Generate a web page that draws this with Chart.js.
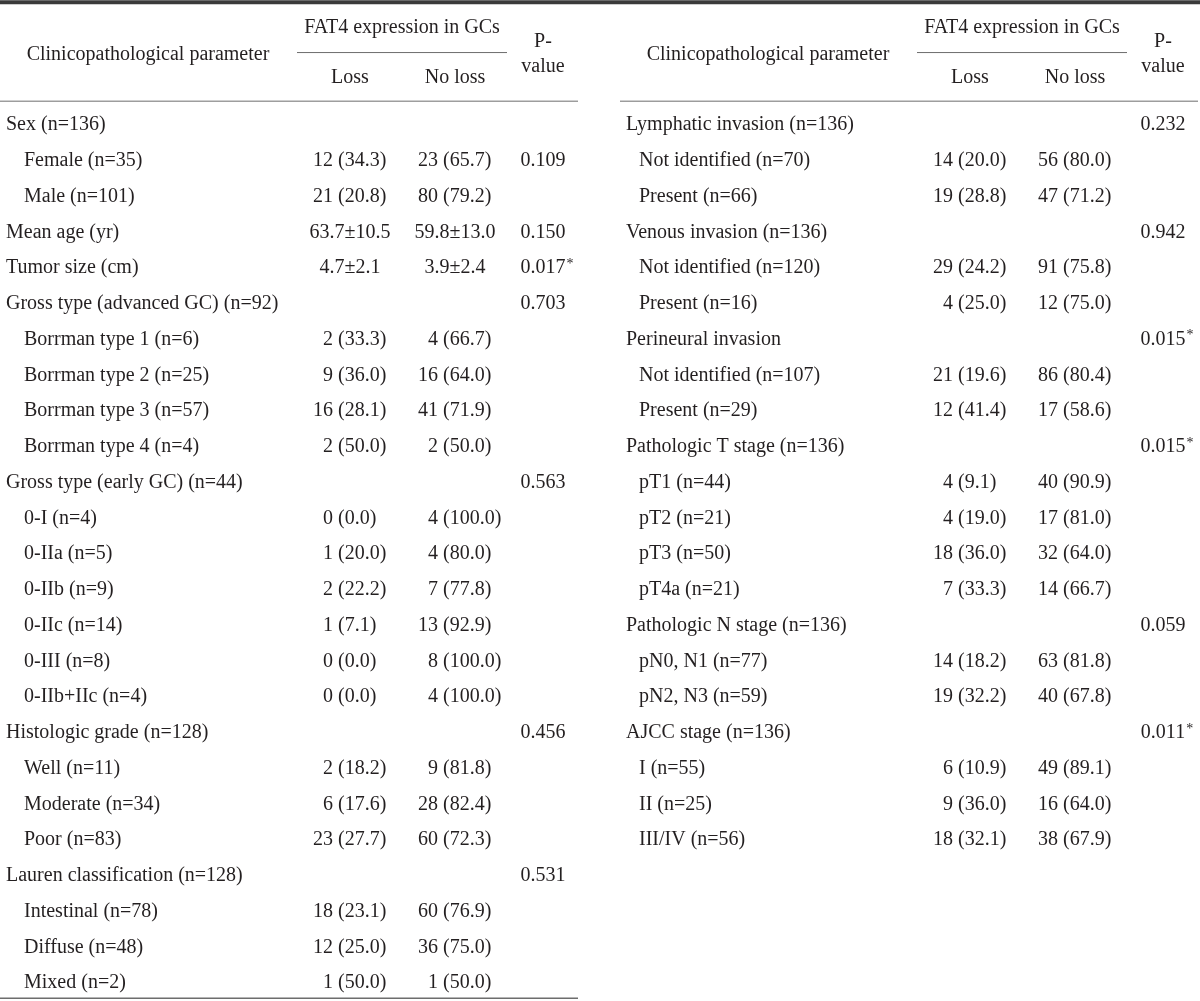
<!DOCTYPE html>
<html>
<head>
<meta charset="utf-8">
<title>FAT4 expression in GCs</title>
<script src="https://cdn.jsdelivr.net/npm/chart.js@4.4.1/dist/chart.umd.min.js"></script>
<style>
    html, body { margin: 0; padding: 0; background: #fff; }
    #wrap { width: 1200px; height: 1001px; position: relative; }
</style>
</head>
<body>
<div id="wrap"><canvas id="table-chart"></canvas></div>
<script>
// Table data - left half
const leftLabels = [
    'Sex (n=136)', 'Female (n=35)', 'Male (n=101)', 'Mean age (yr)', 'Tumor size (cm)',
    'Gross type (advanced GC) (n=92)', 'Borrman type 1 (n=6)', 'Borrman type 2 (n=25)',
    'Borrman type 3 (n=57)', 'Borrman type 4 (n=4)', 'Gross type (early GC) (n=44)',
    '0-I (n=4)', '0-IIa (n=5)', '0-IIb (n=9)', '0-IIc (n=14)', '0-III (n=8)', '0-IIb+IIc (n=4)',
    'Histologic grade (n=128)', 'Well (n=11)', 'Moderate (n=34)', 'Poor (n=83)',
    'Lauren classification (n=128)', 'Intestinal (n=78)', 'Diffuse (n=48)', 'Mixed (n=2)'
];
const leftLevels = [0, 1, 1, 0, 0, 0, 1, 1, 1, 1, 0, 1, 1, 1, 1, 1, 1, 0, 1, 1, 1, 0, 1, 1, 1];
const leftLoss = [
    '', '12 (34.3)', '21 (20.8)', '63.7±10.5', '4.7±2.1', '', '2 (33.3)', '9 (36.0)', '16 (28.1)',
    '2 (50.0)', '', '0 (0.0)', '1 (20.0)', '2 (22.2)', '1 (7.1)', '0 (0.0)', '0 (0.0)', '',
    '2 (18.2)', '6 (17.6)', '23 (27.7)', '', '18 (23.1)', '12 (25.0)', '1 (50.0)'
];
const leftNoLoss = [
    '', '23 (65.7)', '80 (79.2)', '59.8±13.0', '3.9±2.4', '', '4 (66.7)', '16 (64.0)', '41 (71.9)',
    '2 (50.0)', '', '4 (100.0)', '4 (80.0)', '7 (77.8)', '13 (92.9)', '8 (100.0)', '4 (100.0)', '',
    '9 (81.8)', '28 (82.4)', '60 (72.3)', '', '60 (76.9)', '36 (75.0)', '1 (50.0)'
];
const leftP = [
    '', '0.109', '', '0.150', '0.017*', '0.703', '', '', '', '', '0.563', '', '', '', '', '', '',
    '0.456', '', '', '', '0.531', '', '', ''
];

// Table data - right half
const rightLabels = [
    'Lymphatic invasion (n=136)', 'Not identified (n=70)', 'Present (n=66)',
    'Venous invasion (n=136)', 'Not identified (n=120)', 'Present (n=16)',
    'Perineural invasion', 'Not identified (n=107)', 'Present (n=29)',
    'Pathologic T stage (n=136)', 'pT1 (n=44)', 'pT2 (n=21)', 'pT3 (n=50)', 'pT4a (n=21)',
    'Pathologic N stage (n=136)', 'pN0, N1 (n=77)', 'pN2, N3 (n=59)',
    'AJCC stage (n=136)', 'I (n=55)', 'II (n=25)', 'III/IV (n=56)'
];
const rightLevels = [0, 1, 1, 0, 1, 1, 0, 1, 1, 0, 1, 1, 1, 1, 0, 1, 1, 0, 1, 1, 1];
const rightLoss = [
    '', '14 (20.0)', '19 (28.8)', '', '29 (24.2)', '4 (25.0)', '', '21 (19.6)', '12 (41.4)', '',
    '4 (9.1)', '4 (19.0)', '18 (36.0)', '7 (33.3)', '', '14 (18.2)', '19 (32.2)', '',
    '6 (10.9)', '9 (36.0)', '18 (32.1)'
];
const rightNoLoss = [
    '', '56 (80.0)', '47 (71.2)', '', '91 (75.8)', '12 (75.0)', '', '86 (80.4)', '17 (58.6)', '',
    '40 (90.9)', '17 (81.0)', '32 (64.0)', '14 (66.7)', '', '63 (81.8)', '40 (67.8)', '',
    '49 (89.1)', '16 (64.0)', '38 (67.9)'
];
const rightP = [
    '0.232', '', '', '0.942', '', '', '0.015*', '', '', '0.015*', '', '', '', '', '0.059', '', '',
    '0.011*', '', '', ''
];

// Header texts
const headParam = 'Clinicopathological parameter';
const headGroup = 'FAT4 expression in GCs';
const headCols = ['Loss', 'No loss'];
const headP = ['P-', 'value'];

const FONT = '"Liberation Serif", "Times New Roman", serif';
const TEXT = '#231f20';
const SIZE = 20;

// Column layout, relative to each half's left edge
const layout = {
    width: 578,
    labelX: 6,
    paramCx: 148,
    groupCx: 402,
    groupLine: [297, 507],
    lossCx: 350,
    noLossCx: 455,
    lossParen: 338,
    noLossParen: 443,
    pCx: 543
};
const halves = [
    { x0: 0, subX: 24, labels: leftLabels, levels: leftLevels, loss: leftLoss, noLoss: leftNoLoss, p: leftP, bottom: true },
    { x0: 620, subX: 19, labels: rightLabels, levels: rightLevels, loss: rightLoss, noLoss: rightNoLoss, p: rightP, bottom: false }
];

// Draw "n (pct)" aligned on the opening parenthesis, "a±b" centered
function drawCount(ctx, text, parenX, centerX, y) {
    if (!text) return;
    const idx = text.indexOf(' (');
    if (idx < 0) {
        ctx.textAlign = 'center';
        ctx.fillText(text, centerX, y);
        return;
    }
    const lead = ctx.measureText(text.slice(0, idx + 1)).width;
    ctx.textAlign = 'left';
    ctx.fillText(text, parenX - lead, y);
}

function drawPValue(ctx, text, cx, y) {
    if (!text) return;
    const star = text.endsWith('*');
    const num = star ? text.slice(0, -1) : text;
    ctx.textAlign = 'center';
    ctx.fillText(num, cx, y);
    if (star) {
        const w = ctx.measureText(num).width;
        ctx.save();
        ctx.font = `${SIZE - 6}px ${FONT}`;
        ctx.textAlign = 'left';
        ctx.fillText('*', cx + w / 2 + 1, y - 4);
        ctx.restore();
    }
}

function hLine(ctx, x1, x2, y, width, color) {
    ctx.save();
    ctx.strokeStyle = color;
    ctx.lineWidth = width;
    ctx.beginPath();
    ctx.moveTo(x1, y);
    ctx.lineTo(x2, y);
    ctx.stroke();
    ctx.restore();
}

// Plugin that paints the table using the chart's scales
const tablePlugin = {
    id: 'tablePlugin',
    beforeDraw(chart) {
        const ctx = chart.ctx;
        ctx.save();
        ctx.fillStyle = '#fff';
        ctx.fillRect(0, 0, chart.width, chart.height);
        ctx.restore();
    },
    afterDraw(chart) {
        const ctx = chart.ctx;
        const xs = chart.scales.x;
        const ys = chart.scales.y;
        const px = v => xs.getPixelForValue(v);
        const py = v => ys.getPixelForValue(v);

        ctx.save();
        // top rule across both halves
        hLine(ctx, px(0), px(1200), py(-3.44), 4, '#3a3a3a');

        halves.forEach(h => {
            const X = v => px(h.x0 + v);
            ctx.fillStyle = TEXT;
            ctx.font = `${SIZE}px ${FONT}`;
            ctx.textBaseline = 'middle';

            // header
            ctx.textAlign = 'center';
            ctx.fillText(headParam, X(layout.paramCx), py(-1.98));
            ctx.fillText(headGroup, X(layout.groupCx), py(-2.72));
            ctx.fillText(headCols[0], X(layout.lossCx), py(-1.32));
            ctx.fillText(headCols[1], X(layout.noLossCx), py(-1.32));
            ctx.fillText(headP[0], X(layout.pCx), py(-2.33));
            ctx.fillText(headP[1], X(layout.pCx), py(-1.63));

            hLine(ctx, X(layout.groupLine[0]), X(layout.groupLine[1]), py(-2.03), 1, '#6d6d6d');
            hLine(ctx, X(0), X(layout.width), py(-0.67), 1, '#6d6d6d');
            if (h.bottom) {
                hLine(ctx, X(0), X(layout.width), py(24.42), 1.5, '#6d6d6d');
            }

            // body rows
            h.labels.forEach((label, i) => {
                const y = py(i);
                ctx.textAlign = 'left';
                ctx.fillText(label, X(h.levels[i] ? h.subX : layout.labelX), y);
                drawCount(ctx, h.loss[i], X(layout.lossParen), X(layout.lossCx), y);
                drawCount(ctx, h.noLoss[i], X(layout.noLossParen), X(layout.noLossCx), y);
                drawPValue(ctx, h.p[i], X(layout.pCx), y);
            });
        });
        ctx.restore();
    }
};

function init() {
    const canvas = document.getElementById('table-chart');
    new Chart(canvas, {
        type: 'scatter',
        data: { datasets: [] },
        options: {
            responsive: true,
            maintainAspectRatio: false,
            animation: false,
            layout: { padding: 0 },
            plugins: {
                legend: { display: false },
                tooltip: { enabled: false }
            },
            scales: {
                x: { type: 'linear', min: 0, max: 1200, display: false },
                y: { type: 'linear', min: -3.5, max: 24.5, reverse: true, display: false }
            }
        },
        plugins: [tablePlugin]
    });
}

if (document.readyState === 'loading') {
    document.addEventListener('DOMContentLoaded', init);
} else {
    init();
}
</script>
</body>
</html>
